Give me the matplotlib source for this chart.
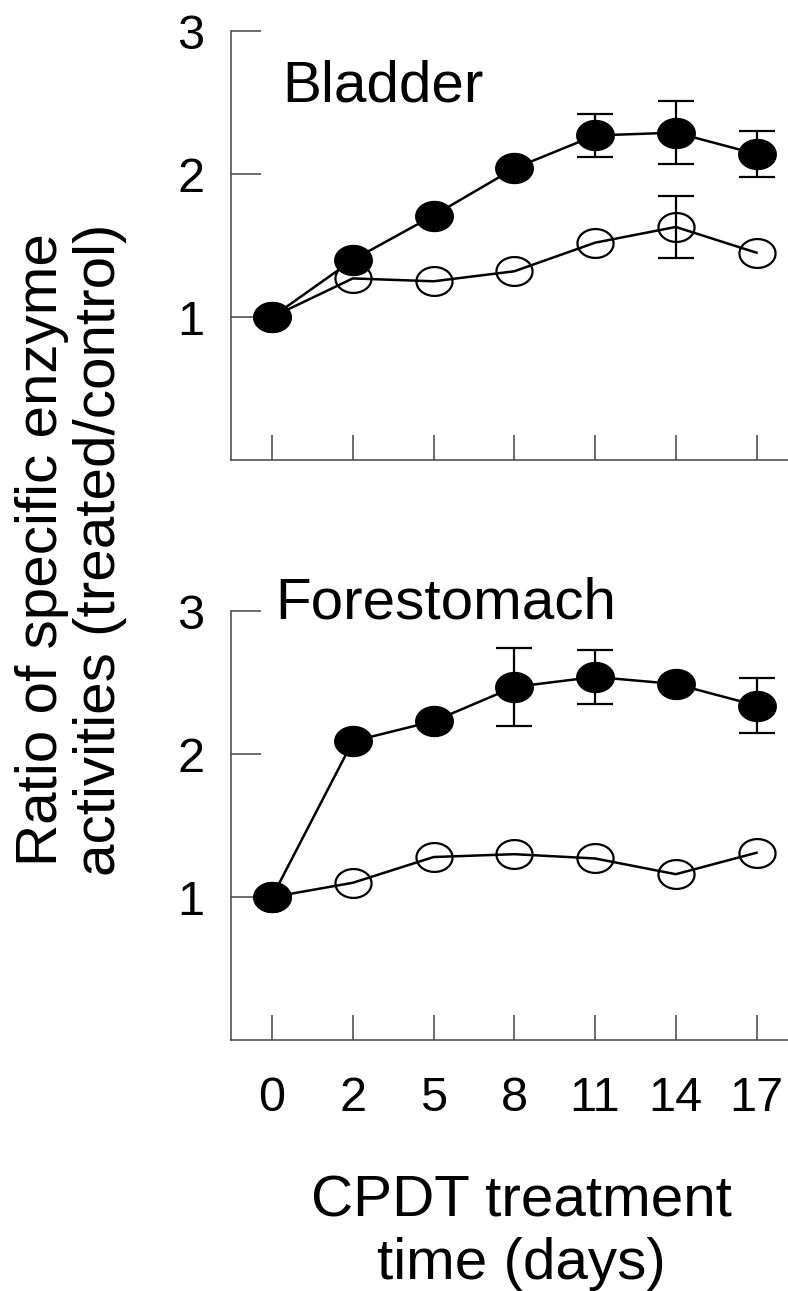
import numpy as np
import matplotlib.pyplot as plt
from matplotlib.path import Path

plt.rcParams['font.family'] = ['Liberation Sans', 'DejaVu Sans']

days = ['0', '2', '5', '8', '11', '14', '17']

# Bladder
bl_filled = [1.00, 1.40, 1.71, 2.04, 2.27, 2.29, 2.14]
bl_filled_err = [0, 0, 0, 0, 0.15, 0.22, 0.16]
bl_open = [1.00, 1.27, 1.25, 1.32, 1.52, 1.63, 1.45]
bl_open_err = [0, 0, 0, 0, 0, 0.22, 0]

# Forestomach
fs_filled = [1.00, 2.09, 2.23, 2.47, 2.54, 2.49, 2.34]
fs_filled_err = [0, 0, 0, 0.27, 0.19, 0, 0.19]
fs_open = [1.00, 1.10, 1.28, 1.30, 1.27, 1.16, 1.31]
fs_open_err = [0, 0, 0, 0, 0, 0, 0]

# slightly flattened ellipse marker
t = np.linspace(0, 2 * np.pi, 60)
ellipse = Path(np.column_stack([np.cos(t), 0.8 * np.sin(t)]), closed=True)

fig = plt.figure(figsize=(7.88, 12.91), dpi=100)
ax1 = fig.add_axes([0.293, 0.6437, 0.707, 0.3322])
ax2 = fig.add_axes([0.293, 0.1944, 0.707, 0.3322])


def draw_panel(ax, filled, filled_err, opened, opened_err, name, tx, ty):
    x = np.arange(len(days))
    for vals, errs in [(opened, opened_err), (filled, filled_err)]:
        e = np.array(errs)
        m = e > 0
        if m.any():
            ax.errorbar(x[m], np.array(vals)[m], yerr=e[m], fmt='none',
                        ecolor='black', elinewidth=1.6, capsize=13,
                        capthick=1.6, zorder=1)
    ax.plot(x, opened, color='black', lw=1.8, marker=ellipse, ms=26,
            mfc='none', mec='black', mew=1.6, zorder=2)
    ax.plot(x, filled, color='black', lw=1.8, marker=ellipse, ms=27,
            mfc='black', mec='black', zorder=3)

    ax.set_xlim(-0.51, 6.39)
    ax.set_ylim(0, 3)
    ax.set_yticks([1, 2, 3])
    ax.set_xticks(x)
    ax.tick_params(axis='y', direction='in', length=21.5, width=1.1,
                   color='#444444', labelsize=35, pad=19)
    ax.tick_params(axis='x', direction='in', length=18, width=1.1,
                   color='#444444', labelsize=35, pad=26)
    for s in ['top', 'right']:
        ax.spines[s].set_visible(False)
    for s in ['left', 'bottom']:
        ax.spines[s].set_color('#444444')
        ax.spines[s].set_linewidth(1.1)
    ax.text(tx, ty, name, fontsize=42)


draw_panel(ax1, bl_filled, bl_filled_err, bl_open, bl_open_err, 'Bladder', 0.12, 2.51)
draw_panel(ax2, fs_filled, fs_filled_err, fs_open, fs_open_err, 'Forestomach', 0.04, 2.95)
ax1.set_xticklabels([])
ax2.set_xticklabels(days)

fig.text(0.09, 0.574, 'Ratio of specific enzyme\nactivities (treated/control)',
         rotation=90, ha='center', va='center', fontsize=42, linespacing=1.1)
fig.text(0.662, 0.045, 'CPDT treatment\ntime (days)', ha='center', va='center',
         fontsize=42, linespacing=1.2)

fig.savefig('out.png', dpi=100)
